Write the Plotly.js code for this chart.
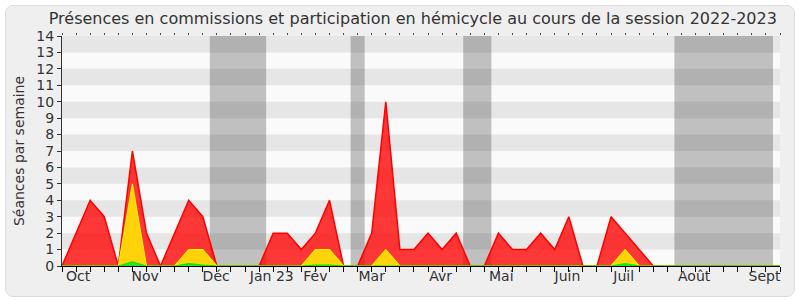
<!DOCTYPE html>
<html>
<head>
<meta charset="utf-8">
<script src="https://cdn.plot.ly/plotly-3.0.1.min.js"></script>
<style>
  html, body { margin: 0; padding: 0; background: #ffffff; }
  #frame { position: absolute; left: 5px; top: 5px; width: 788px; height: 290px;
           background: #efefef; border: 1px solid #dcdcdc; border-radius: 8px; }
  #chart { position: absolute; left: 0; top: 0; width: 800px; height: 300px; }
</style>
</head>
<body>
<div id="frame"></div>
<div id="chart"></div>
<script>
// Week index 0..51 (session 2022-2023)
const weeks = Array.from({length: 52}, (_, i) => i);
const totalSeances = [0,2,4,3,0,7,2,0,2,4,3,0,0,0,0,2,2,1,2,4,0,0,2,10,1,1,2,1,2,0,0,2,1,1,2,1,3,0,0,3,2,1,0,0,0,0,0,0,0,0,0,0];
const commissionSeances = [0,0,0,0,0,5,0,0,0,1,1,0,0,0,0,0,0,0,1,1,0,0,0,1,0,0,0,0,0,0,0,0,0,0,0,0,0,0,0,0,1,0,0,0,0,0,0,0,0,0,0,0];
const hemicycleSeances = [0,0,0,0,0,0.25,0,0,0,0.15,0.05,0,0,0,0,0,0,0,0.05,0.05,0,0,0,0,0,0,0,0,0,0,0,0,0,0,0,0,0,0,0,0,0.15,0,0,0,0,0,0,0,0,0,0,0];
const monthLabels = ["Oct","Nov","Déc","Jan 23","Fév","Mar","Avr","Mai","Juin","Juil","Août","Sept"];
const monthPos = [1.15,5.9,10.95,14.9,18,22,26.9,31.2,35.9,39.9,44.9,49.9];
const vacations = [[10.5,14.5],[20.5,21.5],[28.5,30.5],[43.5,50.5]];
const yTicks = Array.from({length: 15}, (_, i) => i);

const shapes = [];
vacations.forEach(v => shapes.push({type:'rect', xref:'x', yref:'paper', x0:v[0], x1:v[1], y0:0, y1:1,
  fillcolor:'#c0c0c0', line:{width:0}, layer:'below'}));
for (let k = 1; k < 14; k += 2) {
  shapes.push({type:'rect', xref:'paper', yref:'y', x0:0, x1:1, y0:k, y1:k+1,
    fillcolor:'rgba(0,0,0,0.08)', line:{width:0}, layer:'below'});
}

const data = [
  {x: weeks, y: totalSeances, type:'scatter', mode:'lines', fill:'tozeroy',
   line:{color:'#ff0000', width:1.5}, fillcolor:'rgba(255,0,0,0.78)', hoverinfo:'skip'},
  {x: weeks, y: commissionSeances, type:'scatter', mode:'lines', fill:'tozeroy',
   line:{color:'#ffee00', width:1.2}, fillcolor:'#ffd20a', hoverinfo:'skip'},
  {x: weeks, y: hemicycleSeances, type:'scatter', mode:'lines', fill:'tozeroy',
   line:{color:'#00ee00', width:1.2}, fillcolor:'#33dd33', hoverinfo:'skip'},
  {x:[0], y:[0], xaxis:'x2', type:'scatter', mode:'markers', marker:{opacity:0}, hoverinfo:'skip', showlegend:false},
  {x:[0], y:[0], xaxis:'x3', type:'scatter', mode:'markers', marker:{opacity:0}, hoverinfo:'skip', showlegend:false}
];

const layout = {
  width: 800, height: 300,
  margin: {l:62, r:20, t:36, b:34},
  paper_bgcolor: 'rgba(0,0,0,0)',
  plot_bgcolor: '#fafafa',
  showlegend: false,
  font: {family: 'DejaVu Sans, Verdana, sans-serif', color: '#333'},
  title: {text: 'Présences en commissions et participation en hémicycle au cours de la session 2022-2023',
          font: {size: 16, color: '#333'}, xref: 'container', x: 0.516, xanchor: 'center',
          yref: 'container', y: 0.94, yanchor: 'middle'},
  xaxis: {range: [0, 51], tickmode: 'array', tickvals: weeks, ticktext: weeks.map(() => ''),
          ticks: 'outside', ticklen: 5, tickcolor: '#000', showline: true, linecolor: '#000', linewidth: 1,
          showgrid: false, zeroline: false, fixedrange: true},
  xaxis2: {overlaying: 'x', anchor: 'y', side: 'bottom', range: [0, 51], tickmode: 'array',
           tickvals: monthPos, ticktext: monthLabels, ticks: '', showline: false, showgrid: false,
           zeroline: false, tickfont: {size: 14, color: '#333'}, fixedrange: true},
  xaxis3: {overlaying: 'x', anchor: 'y', side: 'top', range: [0, 51], tickmode: 'array',
           tickvals: weeks, ticks: 'outside', ticklen: 2, tickcolor: '#444', showticklabels: false,
           showline: false, showgrid: false, zeroline: false, fixedrange: true},
  yaxis: {range: [0, 14], tickmode: 'array', tickvals: yTicks, ticks: 'outside', ticklen: 4,
          tickcolor: '#333', showline: true, linecolor: '#333', showgrid: false, zeroline: false,
          tickfont: {size: 14, color: '#333'}, fixedrange: true,
          title: {text: 'Séances par semaine', font: {size: 14, color: '#333'}, standoff: 8}},
  shapes: shapes
};

Plotly.newPlot('chart', data, layout, {displayModeBar: false, staticPlot: true});
</script>
</body>
</html>
